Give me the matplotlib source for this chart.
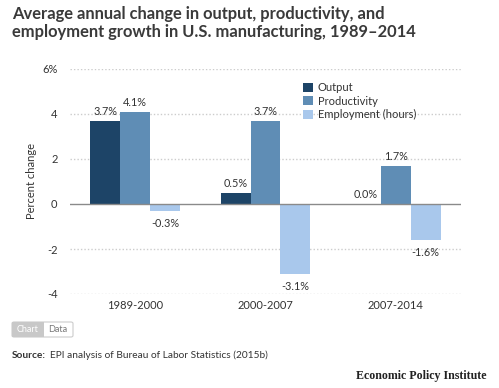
import numpy as np
import matplotlib.pyplot as plt
from matplotlib.patches import FancyBboxPatch, Rectangle

# data
periods = ["1989-2000", "2000-2007", "2007-2014"]
output = [3.7, 0.5, 0.0]
productivity = [4.1, 3.7, 1.7]
employment = [-0.3, -3.1, -1.6]
series_names = ["Output", "Productivity", "Employment (hours)"]
yticks = [-4, -2, 0, 2, 4, 6]
ytick_labels = ["-4", "-2", "0", "2", "4", "6%"]

colors = ["#1d4467", "#5f8db5", "#a9c8ec"]
text_color = "#333333"
font = ["Lato", "DejaVu Sans"]

W, H = 499, 388
fig = plt.figure(figsize=(W / 100, H / 100), dpi=100)
fig.patch.set_facecolor("white")


def px(x, y):
    """ pixel coords (top-left origin) to figure fraction """
    return x / W, 1 - y / H


ax = fig.add_axes([70 / W, 94 / H, 391 / W, 225 / H])
ax.set_xlim(-0.5, 2.5)
ax.set_ylim(-4, 6)

x = np.arange(len(periods))
width = 0.23
for i, (vals, c) in enumerate(zip([output, productivity, employment], colors)):
    pos = x + (i - 1) * width
    ax.bar(pos, vals, width=width, color=c, zorder=2, label=series_names[i])
    for p, v in zip(pos, vals):
        if v >= 0:
            ax.annotate(f"{v:.1f}%", (p, v), xytext=(0, 3), textcoords="offset points",
                        ha="center", va="bottom", fontsize=7.8, color=text_color,
                        family=font)
        else:
            ax.annotate(f"{v:.1f}%", (p, v), xytext=(0, -5), textcoords="offset points",
                        ha="center", va="top", fontsize=7.8, color=text_color,
                        family=font)

# grid
for t in yticks:
    if t == 0:
        ax.axhline(0, color="#8a8a8a", lw=1.0, zorder=3)
    else:
        ax.axhline(t, color="#cccccc", lw=1.0, ls=(0, (1, 1.5)), zorder=1)

for s in ax.spines.values():
    s.set_visible(False)
ax.set_yticks(yticks)
ax.set_yticklabels(ytick_labels, family=font, fontsize=8, color=text_color)
ax.set_xticks(x)
ax.set_xticklabels(periods, family=font, fontsize=8, color=text_color)
ax.tick_params(length=0, axis="y", pad=9)
ax.tick_params(length=0, axis="x", pad=4)
ax.set_ylabel("Percent change", family=font, fontsize=8, color=text_color, labelpad=4)

leg = ax.legend(loc="upper left", bbox_to_anchor=(0.585, 0.96), frameon=False,
                prop={"family": font, "size": 8}, handlelength=0.85, handleheight=0.85,
                handletextpad=0.45, labelspacing=0.2, borderaxespad=0)
for t in leg.get_texts():
    t.set_color(text_color)

# title
fig.text(*px(12, 6), "Average annual change in output, productivity, and\n"
         "employment growth in U.S. manufacturing, 1989\u20132014",
         ha="left", va="top", family=font, fontweight="bold", fontsize=11.9,
         color="#3a3a3a", linespacing=1.12)

# chart / data buttons
bx, by = px(12, 337)
bw = 61 / W
bh = 15 / H
fig.patches.append(FancyBboxPatch((bx, by), bw, bh, boxstyle="round,pad=0,rounding_size=0.004",
                                  transform=fig.transFigure, facecolor="white",
                                  edgecolor="#cccccc", lw=0.8))
fig.patches.append(Rectangle((bx, by), 32 / W, bh, transform=fig.transFigure,
                             facecolor="#c8c8c8", edgecolor="none"))
fig.text(*px(28, 330), "Chart", ha="center", va="center", family=font, fontsize=6.5,
         color="white")
fig.text(*px(58, 330), "Data", ha="center", va="center", family=font, fontsize=6.5,
         color="#777777")

# source
fig.text(*px(12, 355), "Source:", ha="left", va="center", family=font, fontsize=7.3,
         fontweight="bold", color=text_color)
fig.text(*px(50, 355), "EPI analysis of Bureau of Labor Statistics (2015b)", ha="left",
         va="center", family=font, fontsize=7.3, color=text_color)

fig.text(*px(487, 376), "Economic Policy Institute", ha="right", va="center",
         family=["Liberation Serif", "DejaVu Serif"], fontweight="bold", fontsize=8.6,
         color="#222222")

fig.savefig("out.png", dpi=100, facecolor="white")
